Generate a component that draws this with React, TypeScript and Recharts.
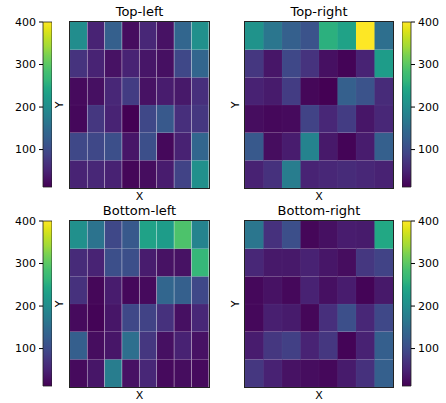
import { Bar, BarChart, Cell, XAxis, YAxis } from "recharts";

// cell values, row 0 = top row of each panel, 8 columns x 6 rows
const topLeft = [
  [200, 50, 130, 25, 55, 30, 140, 205],
  [70, 50, 30, 50, 35, 28, 95, 140],
  [22, 28, 55, 80, 30, 42, 38, 65],
  [20, 75, 50, 12, 95, 120, 65, 75],
  [95, 95, 105, 35, 105, 20, 48, 140],
  [50, 55, 48, 18, 25, 42, 88, 205],
];
const topRight = [
  [210, 165, 130, 110, 255, 235, 400, 155],
  [75, 35, 95, 70, 28, 15, 50, 225],
  [48, 40, 80, 18, 12, 130, 110, 60],
  [25, 20, 22, 88, 55, 80, 35, 55],
  [120, 25, 42, 185, 38, 15, 42, 130],
  [48, 68, 175, 50, 55, 60, 55, 48],
];
const bottomLeft = [
  [205, 160, 95, 120, 235, 225, 290, 185],
  [60, 50, 105, 105, 42, 30, 30, 265],
  [68, 18, 42, 20, 22, 140, 130, 95],
  [22, 15, 35, 95, 88, 68, 28, 55],
  [128, 25, 35, 155, 75, 28, 48, 30],
  [22, 35, 175, 30, 55, 22, 25, 22],
];
const bottomRight = [
  [165, 68, 105, 18, 28, 42, 40, 245],
  [55, 38, 38, 48, 35, 25, 75, 88],
  [20, 30, 20, 48, 28, 42, 15, 38],
  [20, 45, 40, 18, 65, 105, 55, 95],
  [42, 75, 85, 50, 75, 15, 48, 128],
  [75, 48, 30, 25, 20, 40, 68, 130],
];
const colorTicks = [100, 200, 300, 400];
const vMin = 12;
const vMax = 400;

const viridis = [
  "#440154", "#471365", "#482475", "#46337e", "#414487", "#3b528b", "#355f8d",
  "#306a8e", "#2a788e", "#25848e", "#21918c", "#1e9c89", "#22a884", "#35b779",
  "#44bf70", "#5ec962", "#7ad151", "#a0da39", "#bddf26", "#dfe318", "#fde725",
];

function hexToRgb(h: string) {
  return [1, 3, 5].map((i) => parseInt(h.slice(i, i + 2), 16));
}

function colorFor(v: number) {
  let t = (v - vMin) / (vMax - vMin);
  t = Math.max(0, Math.min(1, t));
  const pos = t * (viridis.length - 1);
  const i = Math.min(Math.floor(pos), viridis.length - 2);
  const f = pos - i;
  const a = hexToRgb(viridis[i]);
  const b = hexToRgb(viridis[i + 1]);
  const c = a.map((x, k) => Math.round(x + (b[k] - x) * f));
  return `rgb(${c[0]},${c[1]},${c[2]})`;
}

const font = "'DejaVu Sans', sans-serif";

function Heatmap({ grid, width, height }: { grid: number[][]; width: number; height: number }) {
  const rows = grid.length;
  const data = grid[0].map((_, c) => {
    const o: Record<string, number> = { col: c };
    for (let k = 0; k < rows; k++) o["r" + k] = 1;
    return o;
  });
  return (
    <BarChart
      width={width}
      height={height}
      data={data}
      margin={{ top: 0, right: 0, bottom: 0, left: 0 }}
      barCategoryGap={0}
      barGap={0}
    >
      <XAxis dataKey="col" hide />
      <YAxis hide domain={[0, rows]} />
      {grid.map((_, k) => {
        const row = grid[rows - 1 - k];
        return (
          <Bar
            key={k}
            dataKey={"r" + k}
            stackId="s"
            stroke="rgba(255,255,255,0.06)"
            strokeWidth={0.6}
            isAnimationActive={false}
          >
            {row.map((v, c) => (
              <Cell key={c} fill={colorFor(v)} />
            ))}
          </Bar>
        );
      })}
    </BarChart>
  );
}

function Colorbar({ side, id }: { side: "left" | "right"; id: string }) {
  const data = [{ name: "cb", v: [vMin, vMax] }];
  return (
    <BarChart
      width={52}
      height={181}
      data={data}
      margin={{ top: 8, bottom: 8, left: 0, right: 0 }}
      barCategoryGap={0}
    >
      <defs>
        <linearGradient id={id} x1="0" y1="1" x2="0" y2="0">
          {viridis.map((c, i) => (
            <stop key={i} offset={i / (viridis.length - 1)} stopColor={c} />
          ))}
        </linearGradient>
      </defs>
      <XAxis dataKey="name" hide />
      <YAxis
        orientation={side}
        domain={[vMin, vMax]}
        ticks={colorTicks}
        width={43}
        tickSize={4}
        tickMargin={3}
        axisLine={false}
        tickLine={{ stroke: "#000" }}
        tick={{ fill: "#000", fontSize: 11, fontFamily: font }}
      />
      <Bar dataKey="v" fill={`url(#${id})`} stroke="#222" strokeWidth={0.8} isAnimationActive={false} />
    </BarChart>
  );
}

function Label({ x, y, text, size = 11, rotate = false }: { x: number; y: number; text: string; size?: number; rotate?: boolean }) {
  return (
    <div
      style={{
        position: "absolute",
        left: x,
        top: y,
        transform: `translate(-50%, -50%)${rotate ? " rotate(-90deg)" : ""}`,
        fontSize: size,
        fontFamily: font,
        lineHeight: 1,
        whiteSpace: "nowrap",
        color: "#000",
      }}
    >
      {text}
    </div>
  );
}

const panels = [
  { title: "Top-left", grid: topLeft, hx: 70, hw: 139, top: 22, cbx: 0, side: "left" as const, ylx: 58.5 },
  { title: "Top-right", grid: topRight, hx: 245, hw: 148, top: 22, cbx: 402, side: "right" as const, ylx: 234.5 },
  { title: "Bottom-left", grid: bottomLeft, hx: 70, hw: 139, top: 221, cbx: 0, side: "left" as const, ylx: 58.5 },
  { title: "Bottom-right", grid: bottomRight, hx: 245, hw: 148, top: 221, cbx: 402, side: "right" as const, ylx: 234.5 },
];

export default function App() {
  return (
    <div style={{ position: "absolute", left: 0, top: 0, width: 446, height: 403, background: "#fff", overflow: "hidden" }}>
      {panels.map((p, i) => {
        const h = 166;
        return (
          <div key={i}>
            <div style={{ position: "absolute", left: p.hx, top: p.top, width: p.hw, height: h, outline: "1px solid #222" }}>
              <Heatmap grid={p.grid} width={p.hw} height={h} />
            </div>
            <div style={{ position: "absolute", left: p.cbx, top: p.top - 8 }}>
              <Colorbar side={p.side} id={"cb" + i} />
            </div>
            <Label x={p.hx + p.hw / 2} y={p.top - 11.5} text={p.title} size={13} />
            <Label x={p.hx + p.hw / 2} y={p.top + h + 8} text="X" />
            <Label x={p.ylx} y={p.top + h / 2} text="Y" rotate />
          </div>
        );
      })}
    </div>
  );
}
